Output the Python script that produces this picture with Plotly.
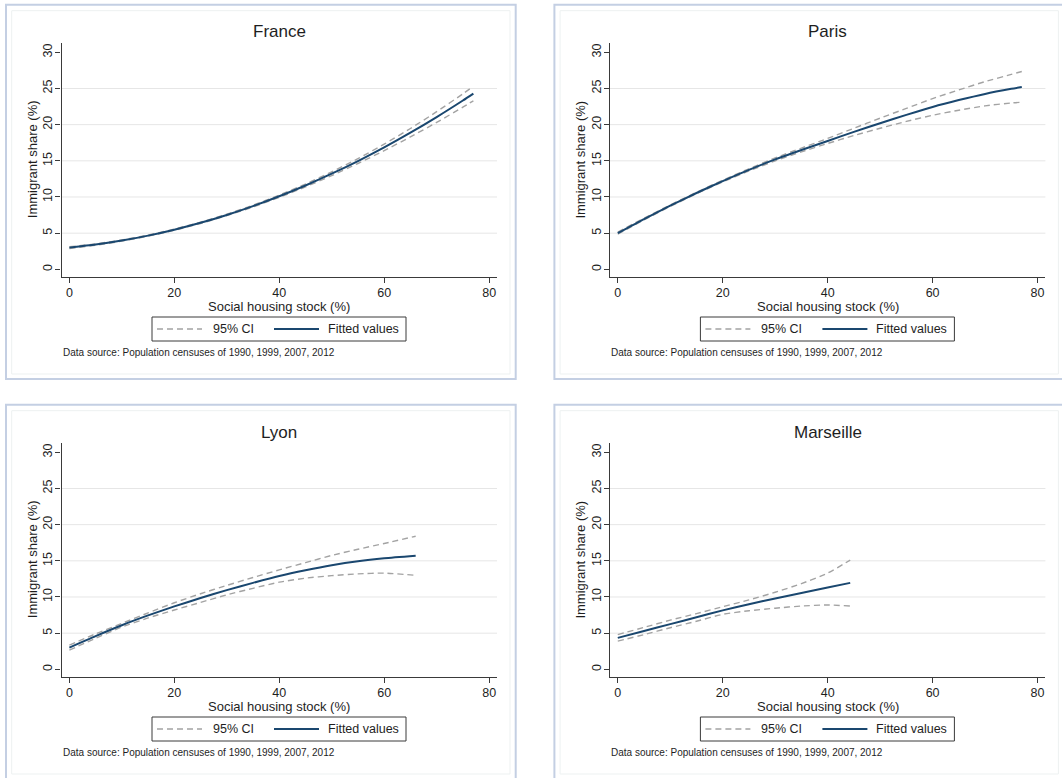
import plotly.graph_objects as go

W, H = 1062, 778

# ---------------- data ----------------
panel_titles = ["France", "Paris", "Lyon", "Marseille"]

france_x = [0, 5, 10, 15, 20, 25, 30, 35, 40, 45, 50, 55, 60, 65, 70, 75, 77]
france_fit = [3.0, 3.42, 3.97, 4.66, 5.48, 6.43, 7.52, 8.74, 10.1, 11.59, 13.22, 14.97, 16.86, 18.89, 21.05, 23.34, 24.3]
france_hi = [3.12, 3.52, 4.05, 4.73, 5.56, 6.52, 7.62, 8.86, 10.25, 11.79, 13.48, 15.31, 17.31, 19.47, 21.79, 24.26, 25.3]
france_lo = [2.88, 3.32, 3.89, 4.59, 5.40, 6.34, 7.42, 8.62, 9.95, 11.39, 12.96, 14.63, 16.41, 18.31, 20.31, 22.42, 23.3]

paris_x = [0, 5, 10, 15, 20, 25, 30, 35, 40, 45, 50, 55, 60, 65, 70, 75, 77]
paris_fit = [5.0, 6.95, 8.8, 10.55, 12.2, 13.75, 15.2, 16.5, 17.75, 19.0, 20.2, 21.35, 22.45, 23.4, 24.25, 24.95, 25.2]
paris_hi = [5.15, 7.07, 8.9, 10.65, 12.32, 13.9, 15.4, 16.76, 18.1, 19.5, 20.9, 22.25, 23.6, 24.8, 25.95, 26.95, 27.35]
paris_lo = [4.85, 6.83, 8.7, 10.45, 12.08, 13.6, 15.0, 16.24, 17.4, 18.5, 19.5, 20.45, 21.3, 22.0, 22.6, 23.0, 23.1]

lyon_x = [0, 5, 10, 15, 20, 25, 30, 35, 40, 45, 50, 55, 60, 66]
lyon_fit = [3.0, 4.6, 6.1, 7.45, 8.7, 9.85, 10.95, 11.95, 12.9, 13.7, 14.4, 14.95, 15.35, 15.7]
lyon_hi = [3.35, 4.9, 6.35, 7.8, 9.2, 10.45, 11.6, 12.7, 13.75, 14.75, 15.75, 16.6, 17.4, 18.4]
lyon_lo = [2.65, 4.3, 5.85, 7.1, 8.2, 9.25, 10.3, 11.2, 12.05, 12.6, 12.95, 13.2, 13.3, 13.0]

marseille_x = [0, 5, 10, 15, 20, 25, 30, 35, 40, 44.3]
marseille_fit = [4.35, 5.3, 6.25, 7.2, 8.15, 9.0, 9.8, 10.55, 11.3, 11.95]
marseille_hi = [4.8, 5.8, 6.8, 7.7, 8.65, 9.6, 10.65, 11.85, 13.3, 15.1]
marseille_lo = [3.9, 4.8, 5.75, 6.65, 7.6, 8.1, 8.45, 8.75, 8.9, 8.75]

x_ticks = [0, 20, 40, 60, 80]
y_ticks = [0, 5, 10, 15, 20, 25, 30]
grid_vals = [5, 10, 15, 20, 25]

x_title = "Social housing stock (%)"
y_title = "Immigrant share (%)"
ci_name = "95% CI"
fit_name = "Fitted values"
note_text = "Data source: Population censuses of 1990, 1999, 2007, 2012"

panels = [
    (france_x, france_fit, france_hi, france_lo),
    (paris_x, paris_fit, paris_hi, paris_lo),
    (lyon_x, lyon_fit, lyon_hi, lyon_lo),
    (marseille_x, marseille_fit, marseille_hi, marseille_lo),
]

# ---------------- layout helpers ----------------
def xp(px):
    return px / W

def yp(py):
    return 1 - py / H

offsets = [(0, 0), (548.4, 0), (0, 400), (548.4, 400)]

FIT_COLOR = "#1a476f"
CI_COLOR = "#a3a3a3"
AX_COLOR = "#3a3a3a"
TXT_COLOR = "#1e1e1e"
FONT = "Liberation Sans, Arial, sans-serif"

CI_LINE = dict(color=CI_COLOR, width=1.4, dash="6px,4px")
FIT_LINE = dict(color=FIT_COLOR, width=2.0)

fig = go.Figure()
shapes = []
annotations = []
layout_extra = {}

for i, ((x, fit, hi, lo), title, (dx, dy)) in enumerate(zip(panels, panel_titles, offsets)):
    n = i + 1
    xa = "x" if n == 1 else f"x{n}"
    ya = "y" if n == 1 else f"y{n}"

    fig.add_trace(go.Scatter(x=x, y=hi, mode="lines", name=ci_name,
                             line=dict(**CI_LINE, shape="spline", smoothing=0.6),
                             xaxis=xa, yaxis=ya, showlegend=False))
    fig.add_trace(go.Scatter(x=x, y=lo, mode="lines", name=ci_name,
                             line=dict(**CI_LINE, shape="spline", smoothing=0.6),
                             xaxis=xa, yaxis=ya, showlegend=False))
    fig.add_trace(go.Scatter(x=x, y=fit, mode="lines", name=fit_name,
                             line=dict(**FIT_LINE, shape="spline", smoothing=0.6),
                             xaxis=xa, yaxis=ya, showlegend=False))

    # axes
    xdom = [xp(61.5 + dx), xp(497 + dx)]
    ydom = [yp(276.7 + dy), yp(42.7 + dy)]
    xkey = "xaxis" if n == 1 else f"xaxis{n}"
    ykey = "yaxis" if n == 1 else f"yaxis{n}"
    layout_extra[xkey] = dict(
        domain=xdom, anchor=ya, range=[-1.5, 81.5], tickmode="array", tickvals=x_ticks,
        showline=True, linecolor=AX_COLOR, linewidth=1.3, ticks="outside", ticklen=5,
        tickcolor=AX_COLOR, tickwidth=1, showgrid=False, zeroline=False, ticklabelstandoff=-1,
        tickfont=dict(size=12.5, color=TXT_COLOR, family=FONT), fixedrange=True,
    )
    layout_extra[ykey] = dict(
        domain=ydom, anchor=xa, range=[-1.02, 31.33], tickmode="array", tickvals=y_ticks,
        showline=True, linecolor=AX_COLOR, linewidth=1.3, ticks="outside", ticklen=5,
        tickcolor=AX_COLOR, tickwidth=1, showgrid=False, zeroline=False, tickangle=-90,
        ticklabelstandoff=-2,
        tickfont=dict(size=12.5, color=TXT_COLOR, family=FONT), fixedrange=True,
    )

    # gridlines
    for g in grid_vals:
        shapes.append(dict(type="line", xref=f"{xa} domain", yref=ya, x0=0, x1=1, y0=g, y1=g,
                           line=dict(color="#e6e6e6", width=1), layer="below"))

    # panel frames
    shapes.append(dict(type="rect", xref="paper", yref="paper",
                       x0=xp(6 + dx), x1=xp(515.7 + dx), y0=yp(379 + dy), y1=yp(4.7 + dy),
                       line=dict(color="#c4cfe3", width=2), layer="below"))
    shapes.append(dict(type="rect", xref="paper", yref="paper",
                       x0=xp(11.7 + dx), x1=xp(510 + dx), y0=yp(374 + dy), y1=yp(10.7 + dy),
                       line=dict(color="#edf1f1", width=1), layer="below"))

    cx = (61.5 + 497) / 2 + dx
    annotations.append(dict(text=title, x=xp(cx), y=yp(32 + dy), xref="paper", yref="paper",
                            xanchor="center", yanchor="middle", showarrow=False,
                            font=dict(size=17, color=TXT_COLOR, family=FONT)))
    annotations.append(dict(text=x_title, x=xp(cx), y=yp(306 + dy), xref="paper", yref="paper",
                            xanchor="center", yanchor="middle", showarrow=False,
                            font=dict(size=13, color=TXT_COLOR, family=FONT)))
    annotations.append(dict(text=y_title, x=xp(32.5 + dx), y=yp(159.7 + dy), xref="paper", yref="paper",
                            xanchor="center", yanchor="middle", showarrow=False, textangle=-90,
                            font=dict(size=13, color=TXT_COLOR, family=FONT)))
    annotations.append(dict(text=note_text, x=xp(61 + dx), y=yp(352 + dy), xref="paper", yref="paper",
                            xanchor="left", yanchor="middle", showarrow=False,
                            font=dict(size=10, color=TXT_COLOR, family=FONT)))

    # legend box (Stata-style key: sample line + label)
    ly = 329 + dy
    shapes.append(dict(type="rect", xref="paper", yref="paper",
                       x0=xp(152 + dx), x1=xp(406 + dx), y0=yp(341 + dy), y1=yp(317 + dy),
                       line=dict(color=AX_COLOR, width=1), fillcolor="white"))
    shapes.append(dict(type="line", xref="paper", yref="paper",
                       x0=xp(157 + dx), x1=xp(202 + dx), y0=yp(ly), y1=yp(ly), line=CI_LINE))
    shapes.append(dict(type="line", xref="paper", yref="paper",
                       x0=xp(274 + dx), x1=xp(319 + dx), y0=yp(ly), y1=yp(ly), line=FIT_LINE))
    annotations.append(dict(text=ci_name, x=xp(211 + dx), y=yp(ly), xref="paper", yref="paper",
                            xanchor="left", yanchor="middle", showarrow=False,
                            font=dict(size=12.5, color=TXT_COLOR, family=FONT)))
    annotations.append(dict(text=fit_name, x=xp(326 + dx), y=yp(ly), xref="paper", yref="paper",
                            xanchor="left", yanchor="middle", showarrow=False,
                            font=dict(size=12.5, color=TXT_COLOR, family=FONT)))

fig.update_layout(
    width=W, height=H, margin=dict(l=0, r=0, t=0, b=0),
    paper_bgcolor="white", plot_bgcolor="white",
    shapes=shapes, annotations=annotations, showlegend=False,
    font=dict(family=FONT, color=TXT_COLOR),
    **layout_extra,
)

fig.write_html("out.html", config={"displayModeBar": False},
               post_script="document.body.style.margin='0';document.body.style.padding='0';")
